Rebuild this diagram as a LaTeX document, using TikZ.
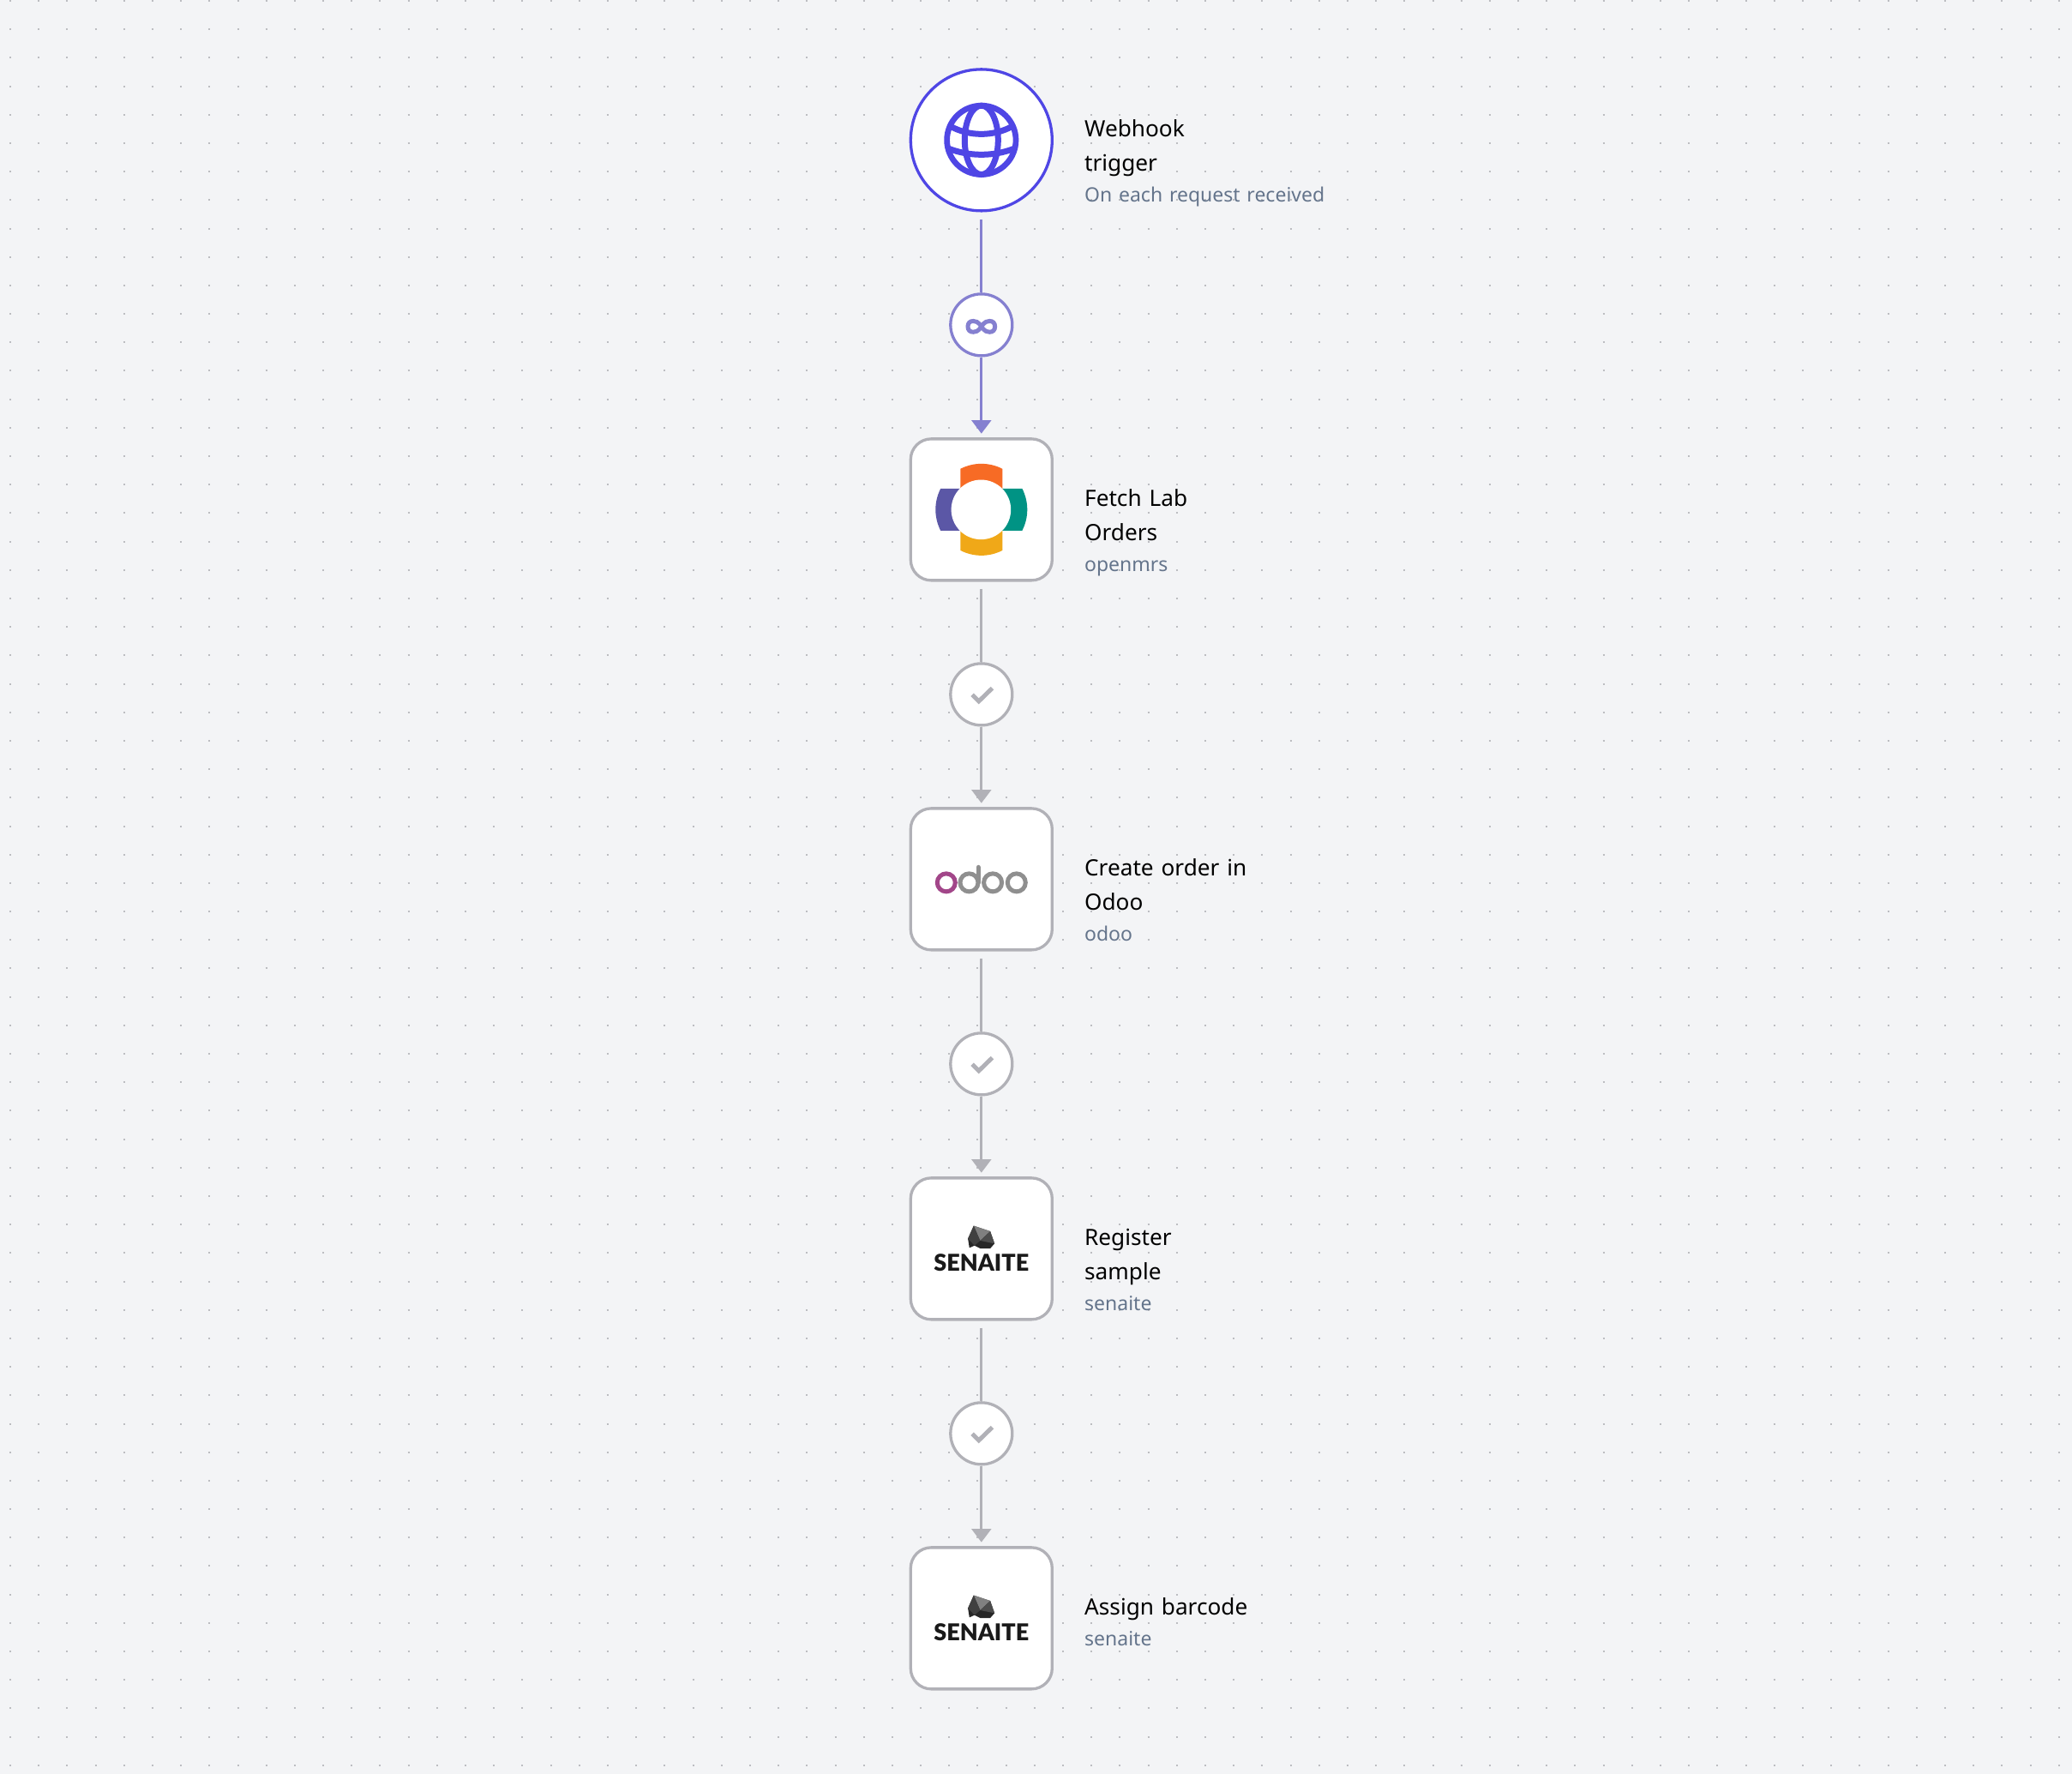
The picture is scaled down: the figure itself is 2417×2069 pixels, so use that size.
\documentclass[tikz,border=0pt]{standalone}
\usepackage{fontspec}
\setmainfont[WordSpace=1.3]{Noto Sans}
\newfontfamily\logofont{Lato Black}
\usetikzlibrary{arrows.meta,positioning}
\definecolor{canvasbg}{HTML}{F3F4F6}
\definecolor{griddot}{HTML}{BCBDC1}
\definecolor{hookblue}{HTML}{4F46E5}
\definecolor{lilac}{HTML}{8580D0}
\definecolor{linegrey}{HTML}{B1B1B7}
\definecolor{subslate}{HTML}{64748B}
\definecolor{odoogrey}{HTML}{8F8F8F}
\definecolor{odoopurple}{HTML}{A24689}
\newcommand{\subfont}{\fontsize{23}{26}\selectfont\color{subslate}}
\tikzset{
    griddots/.style={griddot, line width=2pt, dash pattern=on 2pt off 31.19pt},
    stepbox/.style={draw, fill=white, line width=3.3pt, minimum size=165pt, inner sep=0pt, rounded corners=24pt},
    startcircle/.style={draw, fill=white, circle, line width=3.3pt, minimum size=165pt, inner sep=0pt},
    joincircle/.style={draw, fill=white, circle, line width=3.3pt, minimum size=72pt, inner sep=0pt},
    steplabel/.style={align=left, inner sep=0pt, font=\fontsize{26.2}{40}\selectfont},
    tolink/.style={line width=3.3pt, shorten <=8pt},
    fromlink/.style={line width=3.3pt, shorten >=4.5pt, -{Triangle[width=22.7pt,length=15.7pt]}},
    globeicon/.pic={
        \draw[hookblue, line width=6.7pt] (0,0) circle[radius=40.2];
        \draw[hookblue, line width=7pt] (0,0) ellipse[x radius=19.5, y radius=40.2];
        \draw[hookblue, line width=7pt] (-36,16) .. controls (-14,4) and (14,4) .. (36,16);
        \draw[hookblue, line width=7pt] (-38,-10) .. controls (-14,-19.3) and (14,-19.3) .. (38,-10);
    },
    infinityicon/.pic={
        \foreach \side in {1,-1}
            \draw[lilac, line width=5pt, xscale=\side] (0,0) .. controls (4,6) and (7,6.4) .. (9.5,6.4)
                .. controls (13.5,6.4) and (15.8,4) .. (15.8,0) .. controls (15.8,-4) and (13.5,-6.4) .. (9.5,-6.4)
                .. controls (7,-6.4) and (4,-6) .. (0,0);
    },
    checkicon/.pic={
        \draw[linegrey, line width=5pt] (-10.7,-0.3) -- (-3,-8) -- (12.7,7.3);
    },
    openmrsicon/.pic={
        \foreach \turn/\petal in {0/F76B25,90/5B57A6,180/F0A818,270/009384} {
            \definecolor{petalcolor}{HTML}{\petal}
            \fill[petalcolor, rotate=\turn] (62.7:53.5) arc[start angle=62.7, end angle=117.3, radius=53.5]
                -- (-24.5,10) -- (24.5,10) -- cycle;
        }
        \fill[white] (-0.4,0) circle[radius=34.8];
    },
    odooicon/.pic={
        \draw[odoopurple, line width=5pt] (-41,-4) circle[radius=10.5];
        \draw[odoogrey, line width=5pt] (-14.3,-4) circle[radius=10.5];
        \draw[odoogrey, line width=5pt] (13.3,-4) circle[radius=10.5];
        \draw[odoogrey, line width=5pt] (41,-4) circle[radius=10.5];
        \draw[odoogrey, line width=5pt, line cap=round] (-3.8,-4) -- (-3.8,14);
    },
    senaiteicon/.pic={
        \fill[black!85] (-9,26.7) -- (10.3,20.3) -- (15.3,6) -- (10.3,0.3) -- (-1.3,0.3) -- (-8,3.7) -- (-14,1) -- (-15.7,11.7) -- cycle;
        \fill[black!50] (-9,26.7) -- (10.3,20.3) -- (-1.4,9.4) -- cycle;
        \fill[black!70] (10.3,20.3) -- (15.3,6) -- (-1.4,9.4) -- cycle;
        \fill[black!75] (-9,26.7) -- (-1.4,9.4) -- (-8,3.7) -- (-15.7,11.7) -- cycle;
        \node[anchor=base, inner sep=0pt, text=black!90, font=\logofont\fontsize{27}{27}\selectfont] (-word) at (0,-25.7) {SENAITE};
    },
}
\begin{document}
\begin{tikzpicture}[x=1pt, y=1pt, column 1/.style={linegrey}, row 1/.style={hookblue}, row 2/.style={lilac}]
    \useasboundingbox (0,-2069) rectangle (2417,0);
    \fill[canvasbg] (0,-2069) rectangle (2417,0);
    \foreach \row in {0,...,62}
        \draw[griddots] (11,-1-\row*33.19) -- (2417,-1-\row*33.19);
    \matrix (flow) [anchor=north, inner sep=0pt, row sep=93.7pt] at (1144.8,-79) {
        \node[startcircle] (webhook) {}; \\
        \node[joincircle] (joinloop) {}; \\
        \node[stepbox] (fetch) {}; \\
        \node[joincircle] (joinone) {}; \\
        \node[stepbox] (create) {}; \\
        \node[joincircle] (jointwo) {}; \\
        \node[stepbox] (register) {}; \\
        \node[joincircle] (jointhree) {}; \\
        \node[stepbox] (assign) {}; \\
    };
    \draw[tolink, lilac] (webhook) -- (joinloop);
    \draw[fromlink, lilac] (joinloop) -- (fetch);
    \draw[tolink, linegrey] (fetch) -- (joinone);
    \draw[fromlink, linegrey] (joinone) -- (create);
    \draw[tolink, linegrey] (create) -- (jointwo);
    \draw[fromlink, linegrey] (jointwo) -- (register);
    \draw[tolink, linegrey] (register) -- (jointhree);
    \draw[fromlink, linegrey] (jointhree) -- (assign);
    \pic at (webhook) {globeicon};
    \pic at (joinloop) [yshift=-2pt] {infinityicon};
    \pic at (fetch) {openmrsicon};
    \pic at (joinone) {checkicon};
    \pic at (create) {odooicon};
    \pic at (jointwo) {checkicon};
    \pic (registerlogo) at (register) {senaiteicon};
    \pic at (jointhree) {checkicon};
    \pic (assignlogo) at (assign) {senaiteicon};
    \node[steplabel, right=36pt of webhook, yshift=-27pt] (webhooktext) {Webhook\\trigger\\[-4pt]{\subfont On each request received}};
    \node[steplabel, right=36pt of fetch, yshift=-27pt] (fetchtext) {Fetch Lab\\Orders\\[-4pt]{\subfont openmrs}};
    \node[steplabel, right=36pt of create, yshift=-24.5pt] (createtext) {Create order in\\Odoo\\[-4pt]{\subfont odoo}};
    \node[steplabel, right=36pt of register, yshift=-24.5pt] (registertext) {Register\\sample\\[-4pt]{\subfont senaite}};
    \node[steplabel, right=36pt of assign, yshift=-4pt] (assigntext) {Assign barcode\\[-4pt]{\subfont senaite}};
\end{tikzpicture}
\end{document}
